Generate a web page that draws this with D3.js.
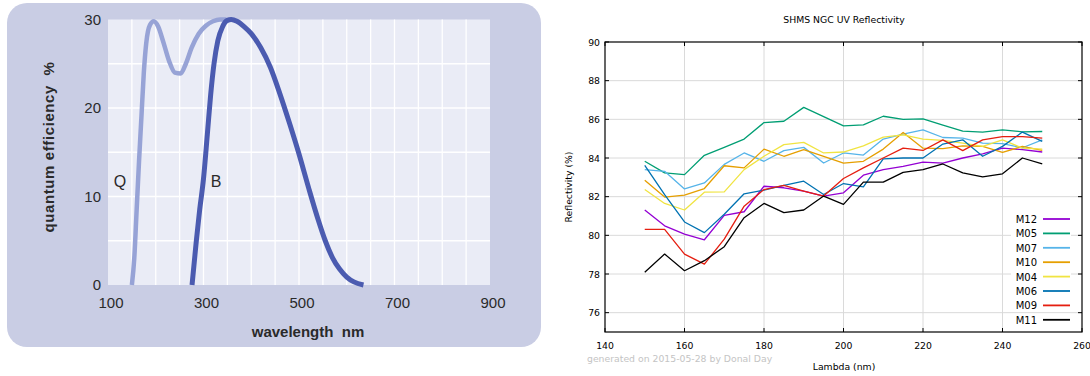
<!DOCTYPE html>
<html>
<head>
<meta charset="utf-8">
<script src="https://cdn.jsdelivr.net/npm/d3@7"></script>
<style>
  body { margin: 0; background: #fff; }
  svg { display: block; }
  text { white-space: pre; }
</style>
</head>
<body>
<script>
// ---------- data: left panel (quantum efficiency) ----------
var qWave = [150, 155, 160, 165, 170, 175, 180, 188, 196, 205, 215, 228, 240, 252, 263, 275, 290, 305, 320, 335, 348];
var qEff  = [0, 3, 8.5, 14, 19, 24, 27.3, 29.4, 29.8, 29.2, 27.6, 25.3, 24, 23.9, 25, 26.8, 28.4, 29.3, 29.8, 30, 30];
var bWave = [276, 285, 292, 300, 308, 315, 322, 330, 340, 350, 358, 370, 385, 400, 420, 440, 460, 480, 500, 520, 540, 555, 570, 585, 600, 615, 635];
var bEff  = [0, 5, 8.5, 12, 17, 21.5, 25, 27.6, 29.2, 29.9, 30, 29.8, 29.2, 28.4, 26.8, 24.6, 21.6, 18.3, 14.8, 11, 7.4, 5, 3.1, 1.8, 0.9, 0.35, 0];
var qeXTicks = [100, 300, 500, 700, 900];
var qeYTicks = [0, 10, 20, 30];

// ---------- data: right panel (reflectivity) ----------
var lambda = [150, 155, 160, 165, 170, 175, 180, 185, 190, 195, 200, 205, 210, 215, 220, 225, 230, 235, 240, 245, 250];
var seriesNames = ["M12", "M05", "M07", "M10", "M04", "M06", "M09", "M11"];
var seriesColors = ["#9400d3", "#009e73", "#56b4e9", "#e69f00", "#f0e442", "#0072b2", "#e51e10", "#000000"];
var M12 = [81.31, 80.49, 80.06, 79.77, 81.03, 81.22, 82.54, 82.46, 82.29, 82.03, 82.2, 83.11, 83.4, 83.57, 83.79, 83.74, 84.0, 84.21, 84.51, 84.43, 84.31];
var M05 = [83.83, 83.23, 83.14, 84.14, 84.55, 84.98, 85.83, 85.9, 86.62, 86.14, 85.66, 85.71, 86.16, 86.0, 86.02, 85.7, 85.39, 85.34, 85.46, 85.35, 85.37];
var M07 = [83.4, 83.31, 82.4, 82.71, 83.67, 84.26, 83.83, 84.38, 84.55, 83.74, 84.26, 84.15, 84.98, 85.23, 85.46, 85.06, 85.03, 84.77, 84.74, 84.53, 84.94];
var M10 = [82.85, 81.98, 82.08, 82.42, 83.6, 83.49, 84.46, 84.09, 84.43, 84.09, 83.74, 83.83, 84.46, 85.32, 84.51, 84.48, 84.63, 84.6, 84.29, 84.6, 84.39];
var M04 = [82.37, 81.65, 81.31, 82.23, 82.25, 83.4, 84.09, 84.69, 84.81, 84.26, 84.31, 84.63, 85.08, 85.2, 84.98, 84.91, 84.77, 84.6, 84.94, 84.51, 84.46];
var M06 = [83.62, 82.11, 80.69, 80.14, 81.09, 82.15, 82.34, 82.58, 82.8, 82.11, 82.68, 82.51, 83.95, 84.0, 84.0, 84.72, 84.94, 84.09, 84.6, 85.34, 84.86];
var M09 = [80.31, 80.31, 79.03, 78.51, 79.8, 81.51, 82.37, 82.58, 82.29, 82.03, 82.94, 83.49, 84.0, 84.51, 84.39, 84.94, 84.38, 84.94, 85.11, 85.11, 85.03];
var M11 = [78.09, 79.03, 78.17, 78.69, 79.41, 80.91, 81.65, 81.17, 81.31, 82.03, 81.6, 82.75, 82.75, 83.26, 83.4, 83.69, 83.23, 83.02, 83.18, 84.0, 83.69];
var seriesValues = [M12, M05, M07, M10, M04, M06, M09, M11];
var reflXTicks = [140, 160, 180, 200, 220, 240, 260];
var reflYTicks = [76, 78, 80, 82, 84, 86, 88, 90];

var svg = d3.select("body").append("svg")
    .attr("width", 1090)
    .attr("height", 376);

/* ================= left panel ================= */
var left = svg.append("g");

// lavender card
left.append("rect")
    .attr("x", 7).attr("y", 3)
    .attr("width", 534).attr("height", 344)
    .attr("rx", 20).attr("ry", 20)
    .style("fill", "#c9cde4");

var qx = d3.scaleLinear().domain([100, 900]).range([108, 490]);
var qy = d3.scaleLinear().domain([0, 30]).range([285, 19.5]);

left.append("rect")
    .attr("x", qx(100)).attr("y", qy(30))
    .attr("width", qx(900) - qx(100)).attr("height", qy(0) - qy(30))
    .style("fill", "#eaecf6");

// white grid, every 50 nm and every 5 %
left.append("g").selectAll("line")
    .data(d3.range(150, 900, 50))
    .enter().append("line")
    .attr("x1", function(d){ return qx(d); })
    .attr("x2", function(d){ return qx(d); })
    .attr("y1", qy(0)).attr("y2", qy(30))
    .style("stroke", "#fff").style("stroke-width", 1.3);
left.append("g").selectAll("line")
    .data(d3.range(5, 30, 5))
    .enter().append("line")
    .attr("x1", qx(100)).attr("x2", qx(900))
    .attr("y1", function(d){ return qy(d); })
    .attr("y2", function(d){ return qy(d); })
    .style("stroke", "#fff").style("stroke-width", 1.3);

// tick labels
left.append("g").selectAll("text")
    .data(qeYTicks)
    .enter().append("text")
    .attr("x", 101)
    .attr("y", function(d){ return qy(d) + 5; })
    .attr("text-anchor", "end")
    .style("font", "15px 'Liberation Sans', Arial, sans-serif")
    .style("fill", "#2a2a2a")
    .text(function(d){ return d; });
left.append("g").selectAll("text")
    .data(qeXTicks)
    .enter().append("text")
    .attr("x", function(d){ return qx(d) + 3; })
    .attr("y", 308)
    .attr("text-anchor", "middle")
    .style("font", "15px 'Liberation Sans', Arial, sans-serif")
    .style("fill", "#2a2a2a")
    .text(function(d){ return d; });

// axis titles
left.append("text")
    .attr("transform", "translate(54,147) rotate(-90)")
    .attr("text-anchor", "middle")
    .style("font", "bold 15px 'Liberation Sans', Arial, sans-serif")
    .style("letter-spacing", "0.6px")
    .style("fill", "#2a2a2a")
    .text("quantum efficiency  %");
left.append("text")
    .attr("x", 308).attr("y", 337)
    .attr("text-anchor", "middle")
    .style("font", "bold 15px 'Liberation Sans', Arial, sans-serif")
    .style("fill", "#2a2a2a")
    .text("wavelength  nm");

// curves
var qeLine = d3.line()
    .x(function(d){ return qx(d[0]); })
    .y(function(d){ return qy(d[1]); })
    .curve(d3.curveMonotoneX);

left.append("path")
    .attr("d", qeLine(d3.zip(qWave, qEff)))
    .style("fill", "none")
    .style("stroke", "#97a3d6")
    .style("stroke-width", 4.5);
left.append("path")
    .attr("d", qeLine(d3.zip(bWave, bEff)))
    .style("fill", "none")
    .style("stroke", "#4b5bb0")
    .style("stroke-width", 5);

left.append("text")
    .attr("x", 120).attr("y", 187)
    .attr("text-anchor", "middle")
    .style("font", "16px 'Liberation Sans', Arial, sans-serif")
    .style("fill", "#2a2a2a")
    .text("Q");
left.append("text")
    .attr("x", 216).attr("y", 187)
    .attr("text-anchor", "middle")
    .style("font", "16px 'Liberation Sans', Arial, sans-serif")
    .style("fill", "#2a2a2a")
    .text("B");

/* ================= right panel ================= */
var right = svg.append("g");
var gFont = "9.3px 'DejaVu Sans', sans-serif";

var rx = d3.scaleLinear().domain([140, 260]).range([605, 1082]);
var ry = d3.scaleLinear().domain([75, 90]).range([332, 42]);

// grey grid
right.append("g").selectAll("line")
    .data(reflXTicks.slice(1, -1))
    .enter().append("line")
    .attr("x1", function(d){ return rx(d); })
    .attr("x2", function(d){ return rx(d); })
    .attr("y1", ry(75)).attr("y2", ry(90))
    .style("stroke", "#dadada").style("stroke-width", 1);
right.append("g").selectAll("line")
    .data(reflYTicks.slice(0, -1))
    .enter().append("line")
    .attr("x1", rx(140)).attr("x2", rx(260))
    .attr("y1", function(d){ return ry(d); })
    .attr("y2", function(d){ return ry(d); })
    .style("stroke", "#dadada").style("stroke-width", 1);

// series
var reflLine = d3.line()
    .x(function(d){ return rx(d[0]); })
    .y(function(d){ return ry(d[1]); });

seriesNames.forEach(function(name, i){
    right.append("path")
        .attr("d", reflLine(d3.zip(lambda, seriesValues[i])))
        .style("fill", "none")
        .style("stroke", seriesColors[i])
        .style("stroke-width", 1.3)
        .style("stroke-linejoin", "round");
});

// legend
var legend = right.append("g").selectAll("g")
    .data(seriesNames)
    .enter().append("g")
    .attr("transform", function(d, i){
        return "translate(1037," + (219 + i * 14.4) + ")";
    });
legend.append("rect")
    .attr("x", -26).attr("y", -6)
    .attr("width", 60).attr("height", 12)
    .style("fill", "#fff");
legend.append("text")
    .attr("x", 0).attr("y", 4)
    .attr("text-anchor", "end")
    .style("font", "10px 'DejaVu Sans', sans-serif")
    .style("fill", "#000")
    .text(function(d){ return d; });
legend.append("line")
    .attr("x1", 6).attr("x2", 33)
    .attr("y1", 0).attr("y2", 0)
    .style("stroke", function(d, i){ return seriesColors[i]; })
    .style("stroke-width", 1.8);

// frame and inward ticks
right.append("rect")
    .attr("x", rx(140)).attr("y", ry(90))
    .attr("width", rx(260) - rx(140)).attr("height", ry(75) - ry(90))
    .style("fill", "none").style("stroke", "#000").style("stroke-width", 1.2);

var tickLen = 4;
var tickG = right.append("g").style("stroke", "#000").style("stroke-width", 1);
reflXTicks.forEach(function(t){
    tickG.append("line").attr("x1", rx(t)).attr("x2", rx(t))
        .attr("y1", ry(75)).attr("y2", ry(75) - tickLen);
    tickG.append("line").attr("x1", rx(t)).attr("x2", rx(t))
        .attr("y1", ry(90)).attr("y2", ry(90) + tickLen);
});
reflYTicks.forEach(function(t){
    tickG.append("line").attr("x1", rx(140)).attr("x2", rx(140) + tickLen)
        .attr("y1", ry(t)).attr("y2", ry(t));
    tickG.append("line").attr("x1", rx(260)).attr("x2", rx(260) - tickLen)
        .attr("y1", ry(t)).attr("y2", ry(t));
});

right.append("g").selectAll("text")
    .data(reflYTicks)
    .enter().append("text")
    .attr("x", 600)
    .attr("y", function(d){ return ry(d) + 3.5; })
    .attr("text-anchor", "end")
    .style("font", gFont)
    .text(function(d){ return d; });
right.append("g").selectAll("text")
    .data(reflXTicks)
    .enter().append("text")
    .attr("x", function(d){ return rx(d); })
    .attr("y", 349)
    .attr("text-anchor", "middle")
    .style("font", gFont)
    .text(function(d){ return d; });

right.append("text")
    .attr("x", 844).attr("y", 23)
    .attr("text-anchor", "middle")
    .style("font", gFont)
    .text("SHMS NGC UV Reflectivity");
right.append("text")
    .attr("x", 844).attr("y", 370)
    .attr("text-anchor", "middle")
    .style("font", gFont)
    .text("Lambda (nm)");
right.append("text")
    .attr("transform", "translate(572,187) rotate(-90)")
    .attr("text-anchor", "middle")
    .style("font", gFont)
    .text("Reflectivity (%)");
right.append("text")
    .attr("x", 587).attr("y", 362)
    .style("font", gFont)
    .style("fill", "#c4c4c4")
    .text("generated on 2015-05-28 by Donal Day");
</script>
</body>
</html>
